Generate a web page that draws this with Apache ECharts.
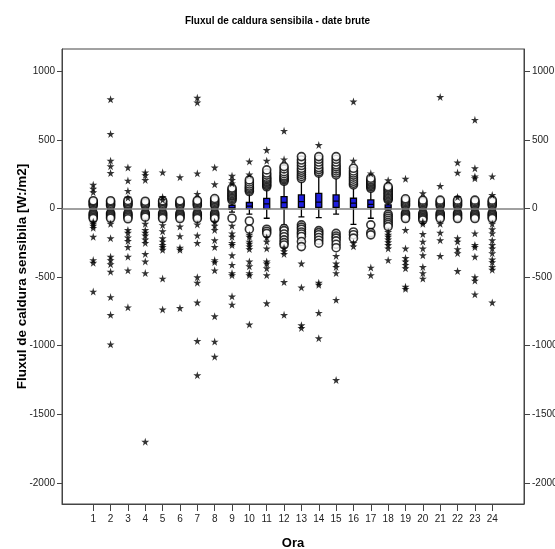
<!DOCTYPE html>
<html>
<head>
<meta charset="utf-8">
<script src="https://cdn.jsdelivr.net/npm/echarts@6/dist/echarts.min.js"></script>
<style>html,body{margin:0;padding:0;background:#fff;}#chart{width:555px;height:549px;}</style>
</head>
<body>
<div id="chart"></div>
<script>
const hours = [1,2,3,4,5,6,7,8,9,10,11,12,13,14,15,16,17,18,19,20,21,22,23,24];
const yTicks = [-2000,-1500,-1000,-500,0,500,1000];

// box statistics per hour
const whiskerLow  = [-25,-25,-25,-25,-25,-25,-25,-25,-25,-40,-70,-120,-60,-65,-40,-115,-70,-20,-25,-25,-25,-25,-25,-25];
const q1          = [-10,-10,-10,-10,-10,-10,-10,-10, -5,  0,  0,   5, 10, 10, 10,  10, 10, -4,-10,-10,-10,-10,-10,-10];
const median      = [ -4, -4, -4, -4, -4, -4, -4, -4,  5, 18, 35,  45, 52, 48, 55,  40, 32, 10, -4, -4, -4, -4, -4, -4];
const q3          = [  3,  3,  3,  3,  3,  3,  3,  3, 25, 45, 75,  88,100,112,100,  76, 64, 28,  3,  3,  3,  3,  3,  3];
const whiskerHigh = [ 15, 15, 15, 15, 15, 15, 15, 15, 55,112,150, 188,205,245,232, 162,138, 56, 15, 15, 15, 15, 15, 15];

// outliers (circles)
const outliers = [
  [22,32,42,52,58,-32,-42,-52,-62,-72],
  [22,30,40,50,58,-32,-40,-50,-60,-70],
  [22,32,40,50,60,-32,-42,-52,-62,-74],
  [24,34,44,54,-32,-42,-52,-62],
  [22,30,40,50,58,-32,-42,-52,-62,-72],
  [22,30,40,50,58,-32,-42,-52,-62,-72],
  [22,32,42,52,60,-32,-42,-52,-62,-72],
  [24,34,44,54,64,74,-32,-42,-52,-62,-72],
  [62,72,82,92,100,110,120,130,140,150,-70],
  [125,135,145,155,165,180,195,210,-90,-150],
  [160,170,180,190,200,210,220,230,245,260,283,-150,-165,-180],
  [200,210,220,230,240,255,270,290,307,-145,-160,-185,-205,-228,-248,-265],
  [220,235,250,265,280,295,315,335,355,380,-118,-135,-150,-170,-185,-203,-240,-277],
  [259,270,285,300,320,340,360,380,-160,-175,-190,-210,-230,-252],
  [246,260,275,290,305,320,340,360,380,-180,-200,-215,-235,-260,-285],
  [173,185,200,215,230,245,260,275,295,-170,-190,-215],
  [149,160,170,180,190,200,210,222,-118,-175,-191],
  [64,72,80,90,100,110,120,130,140,150,161,-40,-55,-70,-85,-100,-115,-131],
  [22,32,42,52,62,72,-32,-42,-52,-62,-72],
  [22,32,42,52,62,-32,-42,-52,-62,-72,-82],
  [22,32,42,52,62,-32,-42,-52,-62,-72],
  [22,32,42,52,62,-32,-42,-52,-62,-72],
  [22,32,42,52,62,-32,-42,-52,-62,-72],
  [22,32,42,52,62,-32,-42,-52,-62,-72]
];

// extremes (stars)
const extremes = [
  [175,145,120,-95,-110,-125,-140,-205,-375,-395,-605],
  [798,545,350,310,260,-110,-215,-350,-375,-405,-460,-645,-775,-990],
  [300,205,130,80,-155,-175,-210,-235,-280,-350,-450,-720],
  [265,245,210,-110,-155,-175,-195,-225,-250,-330,-385,-470,-1700],
  [265,85,65,-120,-165,-215,-240,-265,-280,-300,-510,-735],
  [230,-130,-200,-285,-300,-725],
  [810,775,258,108,-115,-195,-250,-500,-540,-685,-965,-1215],
  [300,178,-95,-125,-155,-230,-280,-375,-390,-450,-785,-970,-1080],
  [240,210,185,-125,-180,-205,-250,-265,-340,-410,-470,-485,-640,-700],
  [345,250,-190,-205,-240,-255,-275,-295,-385,-420,-470,-485,-845],
  [428,350,-210,-240,-290,-385,-400,-435,-485,-690],
  [568,360,-285,-310,-330,-535,-775],
  [-400,-575,-850,-870],
  [465,-540,-555,-760,-945],
  [-345,-400,-425,-470,-665,-1250],
  [782,350,-250,-275],
  [258,-430,-485],
  [208,-170,-190,-205,-225,-245,-265,-290,-375],
  [218,-155,-290,-360,-385,-410,-435,-570,-585],
  [113,-95,-110,-185,-240,-290,-340,-425,-470,-510],
  [815,166,-110,-175,-230,-345],
  [337,263,85,-215,-240,-295,-325,-455],
  [648,295,235,222,-180,-265,-280,-350,-500,-525,-625],
  [236,100,-110,-150,-180,-230,-265,-290,-325,-370,-390,-425,-445,-685]
];

const boxData = hours.map((h, i) => [h, whiskerLow[i], q1[i], median[i], q3[i], whiskerHigh[i]]);
const circleData = [];
outliers.forEach((arr, i) => arr.forEach(v => circleData.push([hours[i], v])));
const starData = [];
extremes.forEach((arr, i) => arr.forEach(v => starData.push([hours[i], v])));

const FONT = "'Liberation Sans', Arial, sans-serif";
const STAR = 'path://M50,0 L61,35 L98,35 L68,57 L79,91 L50,70 L21,91 L32,57 L2,35 L39,35 Z';
const plain = v => String(v);

const chart = echarts.init(document.getElementById('chart'), null, {renderer: 'canvas'});
chart.setOption({
  animation: false,
  backgroundColor: '#fff',
  title: {
    text: 'Fluxul de caldura sensibila - date brute',
    left: 'center',
    top: 11,
    textStyle: {fontFamily: FONT, fontSize: 10, fontWeight: 'bold', color: '#000'}
  },
  grid: {left: 62, right: 31, top: 49, bottom: 45, containLabel: false, outerBoundsMode: 'none',
         show: true, borderColor: '#444', borderWidth: 1, backgroundColor: 'transparent'},
  xAxis: {
    type: 'value', min: -0.8, max: 25.83,
    name: 'Ora', nameLocation: 'middle', nameGap: 33, nameMoveOverlap: false,
    nameTextStyle: {fontFamily: FONT, fontSize: 13, fontWeight: 'bold', color: '#000'},
    axisLine: {show: true, onZero: false, lineStyle: {color: '#444', width: 1}},
    axisTick: {show: true, customValues: hours, length: 7, lineStyle: {color: '#444'}},
    axisLabel: {customValues: hours, margin: 10, fontFamily: FONT, fontSize: 10, color: '#222', formatter: plain},
    splitLine: {show: false}
  },
  yAxis: [{
    type: 'value', min: -2155, max: 1165, position: 'left',
    name: 'Fluxul de caldura sensibila [W:/m2]', nameLocation: 'middle', nameGap: 33, nameMoveOverlap: false,
    nameTextStyle: {fontFamily: FONT, fontSize: 13.5, fontWeight: 'bold', color: '#000'},
    axisLine: {show: true, onZero: false, lineStyle: {color: '#444', width: 1}},
    axisTick: {show: true, customValues: yTicks, length: 5, lineStyle: {color: '#444'}},
    axisLabel: {customValues: yTicks, margin: 7, fontFamily: FONT, fontSize: 10, color: '#222', formatter: plain},
    splitLine: {show: false}
  }, {
    type: 'value', min: -2155, max: 1165, position: 'right',
    axisLine: {show: true, onZero: false, lineStyle: {color: '#444', width: 1}},
    axisTick: {show: true, customValues: yTicks, length: 6, lineStyle: {color: '#444'}},
    axisLabel: {customValues: yTicks, margin: 8, fontFamily: FONT, fontSize: 10, color: '#222', formatter: plain},
    splitLine: {show: false}
  }],
  series: [{
    type: 'line', data: [], z: 1,
    markLine: {
      silent: true, symbol: ['none', 'none'], label: {show: false},
      lineStyle: {color: '#808080', width: 1.5, type: 'solid'},
      data: [{yAxis: 0}]
    }
  }, {
    type: 'boxplot', data: boxData, z: 3,
    boxWidth: [6, 6],
    itemStyle: {color: '#1e1ee0', borderColor: '#000', borderWidth: 1.3}
  }, {
    type: 'scatter', data: circleData, z: 4,
    symbol: 'circle', symbolSize: 8,
    itemStyle: {color: '#fff', borderColor: '#000', borderWidth: 1.6}
  }, {
    type: 'scatter', data: starData, z: 5,
    symbol: STAR, symbolSize: 8,
    itemStyle: {color: '#000'}
  }]
});
</script>
</body>
</html>
